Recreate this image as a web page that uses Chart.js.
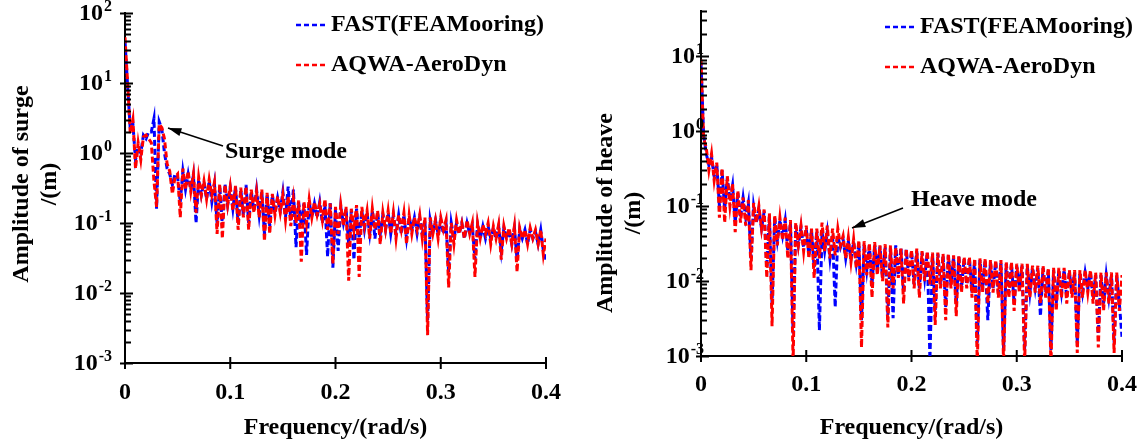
<!DOCTYPE html>
<html>
<head>
<meta charset="utf-8">
<script src="https://cdn.jsdelivr.net/npm/chart.js@4.4.1/dist/chart.umd.min.js"></script>
<style>
  html, body { margin: 0; padding: 0; background: #fff; }
  #wrap { position: relative; width: 1145px; height: 445px; }
  canvas { position: absolute; top: 0; }
  #surge { left: 0; }
  #heave { left: 575px; }
</style>
</head>
<body>
<div id="wrap">
  <canvas id="surge" width="575" height="445"></canvas>
  <canvas id="heave" width="570" height="445"></canvas>
</div>
<script>
// frequency grid of the spectra, rad/s
const FREQ_STEP = 0.0025;

// surge amplitude /(m)
const surgeFast = [
  40, 9, 2.2, 2.6, 0.8, 1.2, 1.0, 1.8, 1.6, 2.0,
  2.0, 3.1, 0.16, 2.8, 2.2, 1.0, 0.6, 0.5, 0.35, 0.5,
  0.45, 0.2, 0.55, 0.3, 0.5, 0.3, 0.48, 0.1, 0.42, 0.25,
  0.38, 0.22, 0.4, 0.2, 0.36, 0.1, 0.34, 0.09, 0.36, 0.18,
  0.32, 0.16, 0.33, 0.1, 0.3, 0.13, 0.35, 0.1, 0.28, 0.15,
  0.3, 0.13, 0.28, 0.07, 0.26, 0.09, 0.25, 0.14, 0.23, 0.15,
  0.28, 0.12, 0.33, 0.11, 0.3, 0.045, 0.2, 0.09, 0.19, 0.035,
  0.2, 0.12, 0.19, 0.12, 0.2, 0.1, 0.18, 0.033, 0.2, 0.023,
  0.16, 0.04, 0.17, 0.1, 0.16, 0.05, 0.15, 0.03, 0.16, 0.06,
  0.15, 0.08, 0.14, 0.07, 0.15, 0.06, 0.14, 0.07, 0.13, 0.08,
  0.14, 0.07, 0.13, 0.07, 0.13, 0.07, 0.13, 0.06, 0.12, 0.08,
  0.12, 0.07, 0.12, 0.07, 0.11, 0.004, 0.11, 0.07, 0.11, 0.07,
  0.11, 0.07, 0.1, 0.02, 0.1, 0.06, 0.1, 0.07, 0.1, 0.06,
  0.1, 0.07, 0.09, 0.03, 0.095, 0.06, 0.09, 0.06, 0.09, 0.06,
  0.085, 0.06, 0.09, 0.04, 0.085, 0.06, 0.08, 0.05, 0.085, 0.03,
  0.08, 0.06, 0.08, 0.05, 0.08, 0.06, 0.075, 0.05, 0.08, 0.04,
  0.03
];
const surgeAqwa = [
  45, 10, 1.9, 3.0, 0.6, 1.4, 0.8, 1.7, 1.8, 1.6,
  1.4, 0.4, 0.17, 2.6, 2.3, 1.6, 0.7, 0.55, 0.26, 0.45,
  0.5, 0.12, 0.6, 0.3, 0.55, 0.28, 0.5, 0.14, 0.45, 0.25,
  0.4, 0.22, 0.42, 0.25, 0.38, 0.07, 0.36, 0.06, 0.35, 0.18,
  0.33, 0.15, 0.34, 0.08, 0.32, 0.12, 0.33, 0.08, 0.3, 0.14,
  0.28, 0.12, 0.3, 0.055, 0.27, 0.07, 0.26, 0.13, 0.24, 0.14,
  0.25, 0.11, 0.24, 0.09, 0.22, 0.1, 0.21, 0.028, 0.2, 0.1,
  0.22, 0.12, 0.2, 0.13, 0.19, 0.11, 0.22, 0.08, 0.19, 0.026,
  0.17, 0.07, 0.18, 0.09, 0.17, 0.015, 0.16, 0.08, 0.18, 0.017,
  0.17, 0.09, 0.15, 0.06, 0.16, 0.08, 0.15, 0.05, 0.14, 0.08,
  0.15, 0.07, 0.14, 0.06, 0.13, 0.08, 0.14, 0.05, 0.13, 0.07,
  0.12, 0.08, 0.13, 0.06, 0.12, 0.0025, 0.12, 0.07, 0.11, 0.06,
  0.12, 0.08, 0.11, 0.012, 0.1, 0.05, 0.11, 0.07, 0.1, 0.06,
  0.11, 0.07, 0.1, 0.017, 0.1, 0.06, 0.095, 0.07, 0.1, 0.05,
  0.09, 0.06, 0.095, 0.03, 0.09, 0.06, 0.085, 0.05, 0.09, 0.02,
  0.085, 0.06, 0.08, 0.05, 0.085, 0.06, 0.08, 0.05, 0.08, 0.035,
  0.06
];

// heave amplitude /(m)
const heaveFast = [
  8, 0.9, 0.5, 0.35, 0.45, 0.25, 0.36, 0.1, 0.3, 0.09,
  0.24, 0.12, 0.19, 0.06, 0.15, 0.07, 0.13, 0.07, 0.11, 0.02,
  0.1, 0.06, 0.09, 0.05, 0.085, 0.015, 0.075, 0.005, 0.07, 0.035,
  0.065, 0.04, 0.065, 0.025, 0.06, 0.002, 0.055, 0.03, 0.052, 0.028,
  0.05, 0.022, 0.048, 0.015, 0.046, 0.0022, 0.045, 0.025, 0.045, 0.02,
  0.042, 0.0045, 0.04, 0.028, 0.036, 0.02, 0.034, 0.02, 0.033, 0.017,
  0.032, 0.003, 0.031, 0.014, 0.03, 0.009, 0.03, 0.014, 0.029, 0.011,
  0.028, 0.0035, 0.028, 0.0032, 0.03, 0.012, 0.028, 0.007, 0.026, 0.011,
  0.025, 0.009, 0.025, 0.008, 0.024, 0.011, 0.024, 0.0009, 0.023, 0.004,
  0.023, 0.009, 0.022, 0.0045, 0.022, 0.009, 0.021, 0.005, 0.021, 0.008,
  0.02, 0.009, 0.02, 0.007, 0.019, 0.0015, 0.019, 0.008, 0.019, 0.003,
  0.018, 0.008, 0.018, 0.007, 0.018, 0.0012, 0.017, 0.007, 0.017, 0.005,
  0.016, 0.008, 0.016, 0.0012, 0.016, 0.007, 0.015, 0.008, 0.015, 0.0034,
  0.015, 0.007, 0.014, 0.0012, 0.014, 0.005, 0.014, 0.007, 0.014, 0.006,
  0.013, 0.007, 0.013, 0.0015, 0.013, 0.007, 0.013, 0.008, 0.013, 0.006,
  0.012, 0.002, 0.012, 0.005, 0.012, 0.006, 0.012, 0.0015, 0.012, 0.005,
  0.0018
];
const heaveAqwa = [
  9, 0.8, 0.6, 0.3, 0.5, 0.22, 0.38, 0.07, 0.32, 0.06,
  0.25, 0.1, 0.2, 0.045, 0.16, 0.06, 0.13, 0.055, 0.12, 0.014,
  0.11, 0.06, 0.1, 0.05, 0.09, 0.011, 0.08, 0.0025, 0.075, 0.03,
  0.07, 0.035, 0.07, 0.02, 0.065, 0.0008, 0.06, 0.03, 0.055, 0.025,
  0.055, 0.02, 0.05, 0.011, 0.05, 0.02, 0.06, 0.025, 0.055, 0.02,
  0.05, 0.022, 0.05, 0.03, 0.04, 0.02, 0.038, 0.018, 0.036, 0.015,
  0.035, 0.0013, 0.034, 0.012, 0.032, 0.006, 0.033, 0.012, 0.03, 0.01,
  0.031, 0.0024, 0.03, 0.008, 0.028, 0.011, 0.027, 0.005, 0.027, 0.01,
  0.026, 0.008, 0.027, 0.006, 0.025, 0.01, 0.025, 0.009, 0.024, 0.0026,
  0.024, 0.008, 0.023, 0.003, 0.023, 0.008, 0.022, 0.0034, 0.022, 0.007,
  0.021, 0.008, 0.021, 0.006, 0.02, 0.0008, 0.02, 0.007, 0.02, 0.005,
  0.019, 0.007, 0.019, 0.006, 0.019, 0.0008, 0.018, 0.006, 0.018, 0.004,
  0.017, 0.007, 0.017, 0.0008, 0.017, 0.006, 0.016, 0.007, 0.016, 0.005,
  0.016, 0.006, 0.015, 0.0008, 0.015, 0.004, 0.015, 0.006, 0.015, 0.005,
  0.014, 0.006, 0.014, 0.0011, 0.014, 0.006, 0.014, 0.007, 0.014, 0.005,
  0.013, 0.0013, 0.013, 0.004, 0.013, 0.005, 0.013, 0.0011, 0.013, 0.004,
  0.012
];

const seriesNames = ["FAST(FEAMooring)", "AQWA-AeroDyn"];
const seriesColors = ["#0000ff", "#ff0000"];
const xTitle = "Frequency/(rad/s)";
const surgeTitle = ["Amplitude of surge", "/(m)"];
const heaveTitle = ["Amplitude of heave", "/(m)"];

const FONT = "'Liberation Serif', 'Times New Roman', serif";
const CLEAR = "rgba(0,0,0,0)";

function freqs(n) {
  const out = [];
  for (let i = 0; i < n; i++) out.push(+(i * FREQ_STEP).toFixed(4));
  return out;
}

function isDecade(v) {
  const k = Math.log10(v);
  return Math.abs(k - Math.round(k)) < 1e-6;
}

// tick marks (decades cross the axis, minor ones sit inside) and 10^n labels
const axisMarks = {
  id: "axisMarks",
  afterDraw(chart, args, o) {
    const { ctx, chartArea: a, scales } = chart;
    ctx.save();
    ctx.strokeStyle = "#000";
    ctx.fillStyle = "#000";
    ctx.lineWidth = 2;
    ctx.beginPath();
    const decades = [];
    scales.y.ticks.forEach((t) => {
      const m = t.value / Math.pow(10, Math.floor(Math.log10(t.value) + 1e-9));
      if (Math.abs(m - Math.round(m)) > 1e-6) return;
      const py = Math.round(scales.y.getPixelForValue(t.value)) + 0.5;
      const major = isDecade(t.value);
      if (major) decades.push([Math.round(Math.log10(t.value)), py]);
      ctx.moveTo(a.left - (major ? 5 : 0), py);
      ctx.lineTo(a.left + (major ? 8 : 6), py);
    });
    scales.x.ticks.forEach((t) => {
      const px = scales.x.getPixelForValue(t.value);
      ctx.moveTo(px, a.bottom - 6);
      ctx.lineTo(px, a.bottom + 6);
    });
    ctx.stroke();

    ctx.textBaseline = "middle";
    ctx.textAlign = "left";
    const base = "bold 24px " + FONT;
    const sup = "bold 16px " + FONT;
    decades.forEach(([k, py]) => {
      const e = String(k);
      ctx.font = base;
      const w1 = ctx.measureText("10").width;
      ctx.font = sup;
      const w2 = ctx.measureText(e).width;
      const x0 = a.left + o.labelEnd - w1 - w2;
      ctx.font = base;
      ctx.fillText("10", x0, py);
      ctx.font = sup;
      ctx.fillText(e, x0 + w1 + 1, py - 7);
    });
    ctx.restore();
  },
};

// in-plot legend, rotated y title and the mode note with its arrow
const notes = {
  id: "notes",
  afterDraw(chart, args, o) {
    const ctx = chart.ctx;
    ctx.save();
    ctx.font = "bold 24px " + FONT;
    ctx.fillStyle = "#000";
    ctx.textBaseline = "middle";

    chart.data.datasets.forEach((ds, i) => {
      const y = o.legend.y + i * o.legend.gap;
      ctx.strokeStyle = ds.borderColor;
      ctx.lineWidth = 2.5;
      ctx.setLineDash([5, 3]);
      ctx.beginPath();
      ctx.moveTo(o.legend.x, y);
      ctx.lineTo(o.legend.x + 31, y);
      ctx.stroke();
      ctx.setLineDash([]);
      ctx.textAlign = "left";
      ctx.fillText(ds.label, o.legend.x + 35, y);
    });

    ctx.save();
    ctx.translate(o.yTitle.x, o.yTitle.y);
    ctx.rotate(-Math.PI / 2);
    ctx.textAlign = "center";
    o.yTitle.lines.forEach((t, i) => ctx.fillText(t, 0, i * 28));
    ctx.restore();

    const n = o.note;
    ctx.textAlign = "left";
    ctx.fillText(n.text, n.x, n.y);
    ctx.strokeStyle = "#000";
    ctx.lineWidth = 1.5;
    ctx.beginPath();
    ctx.moveTo(n.tail[0], n.tail[1]);
    ctx.lineTo(n.tip[0], n.tip[1]);
    ctx.stroke();
    const ang = Math.atan2(n.tip[1] - n.tail[1], n.tip[0] - n.tail[0]);
    ctx.beginPath();
    ctx.moveTo(n.tip[0], n.tip[1]);
    ctx.lineTo(n.tip[0] - 14 * Math.cos(ang - 0.3), n.tip[1] - 14 * Math.sin(ang - 0.3));
    ctx.lineTo(n.tip[0] - 14 * Math.cos(ang + 0.3), n.tip[1] - 14 * Math.sin(ang + 0.3));
    ctx.closePath();
    ctx.fill();
    ctx.restore();
  },
};

function makeChart(id, fast, aqwa, yMax, box, notesCfg) {
  const tickFont = { family: FONT, size: 24, weight: "bold", lineHeight: 1 };
  const mk = (label, data, color, order) => ({
    label,
    data,
    borderColor: color,
    backgroundColor: color,
    borderWidth: 3,
    borderDash: [6, 3],
    pointRadius: 0,
    tension: 0,
    order,
  });
  return new Chart(document.getElementById(id), {
    type: "line",
    data: {
      labels: freqs(fast.length),
      datasets: [mk(seriesNames[0], fast, seriesColors[0], 1), mk(seriesNames[1], aqwa, seriesColors[1], 0)],
    },
    options: {
      responsive: false,
      animation: false,
      layout: { padding: { left: 0, top: box.top, right: box.right, bottom: 0 } },
      plugins: {
        legend: { display: false },
        tooltip: { enabled: false },
        notes: notesCfg,
        axisMarks: { labelEnd: box.labelEnd },
      },
      scales: {
        x: {
          type: "linear",
          min: 0,
          max: 0.4,
          afterFit: (s) => { s.height = box.xHeight; },
          border: { display: true, color: "#000", width: 2 },
          // invisible tick marks keep the label gap without widening the plot margins
          grid: { drawOnChartArea: false, drawTicks: true, tickLength: box.xGap, tickColor: CLEAR },
          ticks: {
            stepSize: 0.1,
            autoSkip: false,
            maxRotation: 0,
            padding: 0,
            color: "#000",
            font: tickFont,
            callback: (v) => (v === 0 ? "0" : v.toFixed(1)),
          },
          title: {
            display: true,
            text: xTitle,
            color: "#000",
            font: { family: FONT, size: 24, weight: "bold" },
            padding: { top: 0, bottom: 3 },
          },
        },
        y: {
          type: "logarithmic",
          min: 0.001,
          max: yMax,
          afterFit: (s) => { s.width = box.yWidth; },
          border: { display: true, color: "#000", width: 2 },
          grid: { drawOnChartArea: false, drawTicks: false },
          ticks: { autoSkip: false, display: false },
        },
      },
    },
    plugins: [axisMarks, notes],
  });
}

makeChart("surge", surgeFast, surgeAqwa, 100,
  { top: 13, right: 29, xHeight: 82, yWidth: 125, xGap: 18, labelEnd: -14 },
  {
    legend: { x: 296, y: 25, gap: 40 },
    yTitle: { x: 22, y: 184, lines: surgeTitle },
    note: { text: "Surge mode", x: 225, y: 152, tail: [223, 146], tip: [168, 128] },
  });

makeChart("heave", heaveFast, heaveAqwa, 40,
  { top: 11, right: 23, xHeight: 89, yWidth: 126, xGap: 17, labelEnd: 2 },
  {
    legend: { x: 310, y: 27, gap: 40 },
    yTitle: { x: 31, y: 213, lines: heaveTitle },
    note: { text: "Heave mode", x: 336, y: 200, tail: [328, 208], tip: [277, 228] },
  });
</script>
</body>
</html>
